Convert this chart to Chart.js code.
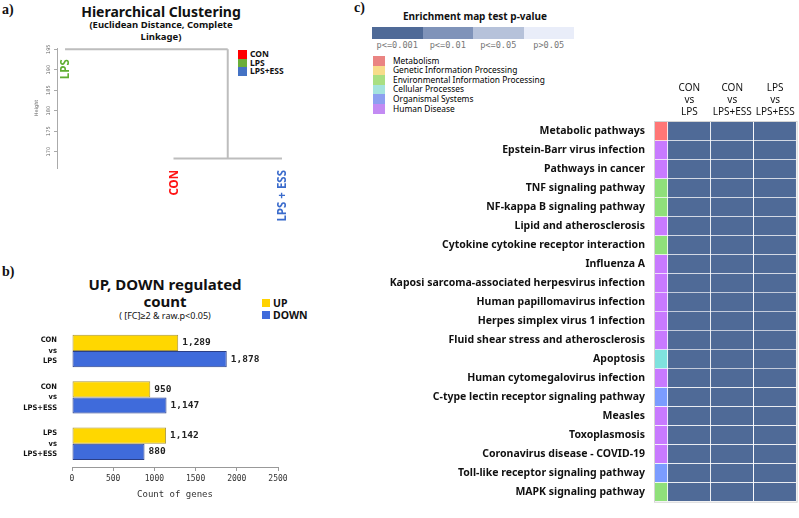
<!DOCTYPE html>
<html>
<head>
<meta charset="utf-8">
<script src="https://cdn.jsdelivr.net/npm/chart.js@4.4.0/dist/chart.umd.min.js"></script>
<style>
body{margin:0;width:799px;height:518px;background:#fff;position:relative;overflow:hidden;font-family:"Noto Sans",sans-serif;color:#111;}
.t{position:absolute;white-space:nowrap;}
.c{text-align:center;}
.pl{font-family:"Liberation Serif",serif;font-weight:bold;font-size:14px;line-height:14px;}
canvas{position:absolute;}
</style>
</head>
<body>
<div class="t pl" style="left:2px;top:3px">a)</div>
<div class="t pl" style="left:2px;top:265px">b)</div>
<div class="t pl" style="left:354px;top:1px">c)</div>

<div class="t c" style="left:41px;width:240px;top:4px;font-size:14px;line-height:16px;font-weight:bold">Hierarchical Clustering</div>
<div class="t c" style="left:41px;width:240px;top:19px;font-size:9.5px;line-height:12px;font-weight:bold">(Euclidean Distance, Complete<br>Linkage)</div>
<div id="legA"></div>

<div class="t c" style="left:45px;width:240px;top:276px;font-size:15px;line-height:17px;font-weight:bold">UP, DOWN regulated<br>count</div>
<div class="t c" style="left:45px;width:240px;top:310px;font-size:9px;line-height:12px">( [FC]≥2 &amp; raw.p&lt;0.05)</div>
<div id="legB"></div>

<div class="t c" style="left:380px;width:190px;top:9px;font-size:10px;line-height:14px;font-weight:bold">Enrichment map test p-value</div>
<div id="legC"></div>

<canvas id="dendro" width="270" height="235" style="left:30px;top:0px"></canvas>
<canvas id="bars" width="330" height="211" style="left:0px;top:297px"></canvas>
<canvas id="heat" width="409" height="440" style="left:390px;top:78px"></canvas>

<script>
// a) hierarchical clustering
var leafNames = ['LPS', 'CON', 'LPS + ESS'];
var leafColors = ['#5fae32', '#ff1414', '#3a6bcc'];
var leafPos = [1, 2, 3];
var mergeHeights = [168.3, 195];
var heightTicks = [170, 175, 180, 185, 190, 195];
var groupNames = ['CON', 'LPS', 'LPS+ESS'];
var groupColors = ['#ff0000', '#6aae3a', '#4472c4'];

// b) up / down regulated counts
var comparisons = [['CON', 'vs', 'LPS'], ['CON', 'vs', 'LPS+ESS'], ['LPS', 'vs', 'LPS+ESS']];
var upCounts = [1289, 950, 1142];
var downCounts = [1878, 1147, 880];
var countTicks = [0, 500, 1000, 1500, 2000, 2500];

// c) KEGG enrichment heatmap
var pathways = ['Metabolic pathways', 'Epstein-Barr virus infection', 'Pathways in cancer',
  'TNF signaling pathway', 'NF-kappa B signaling pathway', 'Lipid and atherosclerosis',
  'Cytokine cytokine receptor interaction', 'Influenza A',
  'Kaposi sarcoma-associated herpesvirus infection', 'Human papillomavirus infection',
  'Herpes simplex virus 1 infection', 'Fluid shear stress and atherosclerosis', 'Apoptosis',
  'Human cytomegalovirus infection', 'C-type lectin receptor signaling pathway', 'Measles',
  'Toxoplasmosis', 'Coronavirus disease - COVID-19', 'Toll-like receptor signaling pathway',
  'MAPK signaling pathway'];
var pathwayClass = [0, 5, 5, 2, 2, 5, 2, 5, 5, 5, 5, 5, 3, 5, 4, 5, 5, 5, 4, 2];
var classNames = ['Metabolism', 'Genetic Information Processing', 'Environmental Information Processing',
  'Cellular Processes', 'Organismal Systems', 'Human Disease'];
var classColors = ['#ff7676', '#ffd86e', '#8fe07a', '#7fe2de', '#7b9cff', '#c87aff'];
var legendColors = ['#ea8482', '#f7dc8a', '#a9df82', '#a4e3de', '#8d9ff0', '#c38bf3'];
var pLabels = ['p<=0.001', 'p<=0.01', 'p<=0.05', 'p>0.05'];
var pColors = ['#4f6a97', '#7f93b9', '#b6c2da', '#e9edf9'];
// p-value class per pathway (0 = p<=0.001)
var pConLps =    [0, 0, 0, 0, 0, 0, 0, 0, 0, 0, 0, 0, 0, 0, 0, 0, 0, 0, 0, 0];
var pConLpsEss = [0, 0, 0, 0, 0, 0, 0, 0, 0, 0, 0, 0, 0, 0, 0, 0, 0, 0, 0, 0];
var pLpsLpsEss = [0, 0, 0, 0, 0, 0, 0, 0, 0, 0, 0, 0, 0, 0, 0, 0, 0, 0, 0, 0];

// html legends
function addBox(parent, x, y, w, h, color) {
  var d = document.createElement('div');
  d.className = 't';
  d.style.cssText = 'left:' + x + 'px;top:' + y + 'px;width:' + w + 'px;height:' + h + 'px;background:' + color;
  parent.appendChild(d);
}
function addText(parent, x, y, txt, css) {
  var d = document.createElement('div');
  d.className = 't';
  d.style.cssText = 'left:' + x + 'px;top:' + y + 'px;' + css;
  d.textContent = txt;
  parent.appendChild(d);
  return d;
}
var legA = document.getElementById('legA');
groupNames.forEach(function (g, i) {
  addBox(legA, 238, 50 + i * 8.5, 9, 8.5, groupColors[i]);
  addText(legA, 250, 49 + i * 8.5, g, 'font-size:8.5px;line-height:10px;font-weight:bold');
});
var legB = document.getElementById('legB');
['UP', 'DOWN'].forEach(function (g, i) {
  addBox(legB, 262, 299 + i * 12, 8, 8, i ? '#3f6bdb' : '#ffd200');
  addText(legB, 273, 297 + i * 11.5, g, 'font-size:10.5px;line-height:13px;font-weight:bold');
});
var legC = document.getElementById('legC');
pLabels.forEach(function (p, i) {
  addBox(legC, 372 + i * 50.5, 27, 50.5, 12, pColors[i]);
  addText(legC, 372 + i * 50.5, 39, p, 'width:50.5px;text-align:center;font-family:"DejaVu Sans Mono",monospace;font-size:8.6px;line-height:12px;color:#777');
});
classNames.forEach(function (c, i) {
  addBox(legC, 373, 56 + i * 9.6, 12, 9.6, legendColors[i]);
  addText(legC, 393, 55.5 + i * 9.6, c, 'font-size:8.4px;line-height:10px;color:#000');
});

// a) dendrogram
var midRight = (leafPos[1] + leafPos[2]) / 2;
var leafLabels = {
  id: 'leafLabels',
  afterDraw: function (chart) {
    var ctx = chart.ctx, xs = chart.scales.x, ys = chart.scales.y;
    ctx.save();
    ctx.font = 'bold 11.5px "Noto Sans"';
    ctx.textAlign = 'right';
    ctx.textBaseline = 'middle';
    leafNames.forEach(function (n, i) {
      var x = xs.getPixelForValue(leafPos[i]);
      var y = i === 0 ? ys.getPixelForValue(mergeHeights[1]) + 10 : chart.chartArea.bottom + 2;
      ctx.save();
      ctx.translate(x + 1, y);
      ctx.rotate(-Math.PI / 2);
      ctx.fillStyle = leafColors[i];
      ctx.fillText(n, 0, 0);
      ctx.restore();
    });
    ctx.restore();
  }
};
var lineStyle = {showLine: true, pointRadius: 0, borderColor: '#bdbdbd', borderWidth: 2};
new Chart(document.getElementById('dendro'), {
  type: 'scatter',
  data: {
    datasets: [
      Object.assign({data: [{x: leafPos[1], y: mergeHeights[0]}, {x: leafPos[2], y: mergeHeights[0]}]}, lineStyle),
      Object.assign({data: [{x: midRight, y: mergeHeights[0]}, {x: midRight, y: mergeHeights[1]}]}, lineStyle),
      Object.assign({data: [{x: leafPos[0], y: mergeHeights[1]}, {x: midRight, y: mergeHeights[1]}]}, lineStyle)
    ]
  },
  options: {
    responsive: false,
    animation: false,
    layout: {padding: {top: 48, bottom: 67, right: 10, left: 0}},
    scales: {
      x: {type: 'linear', display: false, min: 0.926, max: 3.074},
      y: {
        min: 166, max: 195.3,
        afterBuildTicks: function (s) { s.ticks = heightTicks.map(function (v) { return {value: v}; }); },
        ticks: {minRotation: 90, maxRotation: 90, crossAlign: 'center', padding: 1,
          font: {family: 'DejaVu Sans', size: 5}, color: '#666'},
        grid: {drawOnChartArea: false, tickLength: 3, color: '#aaa'},
        border: {color: '#aaa'},
        title: {display: true, text: 'Height', font: {family: 'DejaVu Sans', size: 5}, color: '#666', padding: {top: 4, bottom: 0}},
        afterFit: function (s) { s.width = 27; }
      }
    },
    plugins: {legend: {display: false}, tooltip: {enabled: false}}
  },
  plugins: [leafLabels]
});

// b) bar chart
var valueLabels = {
  id: 'valueLabels',
  afterDatasetsDraw: function (chart) {
    var ctx = chart.ctx;
    ctx.save();
    ctx.font = 'bold 9.5px "DejaVu Sans Mono"';
    ctx.fillStyle = '#222';
    ctx.textAlign = 'left';
    ctx.textBaseline = 'middle';
    chart.data.datasets.forEach(function (ds, di) {
      chart.getDatasetMeta(di).data.forEach(function (bar, i) {
        ctx.fillText(ds.data[i].toLocaleString('en-US'), bar.x + 4, bar.y);
      });
    });
    ctx.restore();
  }
};
new Chart(document.getElementById('bars'), {
  type: 'bar',
  data: {
    labels: comparisons,
    datasets: [
      {label: 'UP', data: upCounts, backgroundColor: '#ffd700', borderColor: '#a8953c', borderWidth: 1},
      {label: 'DOWN', data: downCounts, backgroundColor: '#3f6bdb', borderColor: '#2b3f86', borderWidth: 1}
    ]
  },
  options: {
    indexAxis: 'y',
    responsive: false,
    animation: false,
    layout: {padding: {top: 0, right: 52, bottom: 0, left: 0}},
    datasets: {bar: {barPercentage: 1, categoryPercentage: 0.7, borderSkipped: false}},
    scales: {
      x: {
        min: 0, max: 2500,
        afterBuildTicks: function (s) { s.ticks = countTicks.map(function (v) { return {value: v}; }); },
        ticks: {font: {family: 'DejaVu Sans Mono', size: 8}, color: '#333', padding: 3,
          callback: function (v) { return String(v); }},
        grid: {drawOnChartArea: false, tickLength: 4, color: '#999'},
        border: {color: '#999'},
        title: {display: true, text: 'Count of genes', font: {family: 'DejaVu Sans Mono', size: 9}, color: '#333', padding: {top: 0, bottom: 8}},
        afterFit: function (s) { s.height = 41; }
      },
      y: {
        grid: {display: false, drawTicks: false},
        border: {display: false},
        ticks: {font: {family: '"DejaVu Sans Condensed", "Liberation Sans", sans-serif', size: 7.5, weight: 'bold', lineHeight: 1.4}, color: '#111', padding: 15},
        afterFit: function (s) { s.width = 72; }
      }
    },
    plugins: {legend: {display: false}, tooltip: {enabled: false}}
  },
  plugins: [valueLabels]
});

// c) heatmap
var stripWidth = 0.3;
var frame = {
  id: 'frame',
  afterDraw: function (chart) {
    var a = chart.chartArea, ctx = chart.ctx;
    ctx.save();
    ctx.strokeStyle = '#d4d4d4';
    ctx.lineWidth = 1;
    ctx.strokeRect(a.left - 0.5, a.top - 0.5, a.right - a.left + 1, a.bottom - a.top + 1);
    ctx.restore();
  }
};
function cellSet(pc) {
  return {data: pc.map(function () { return 1; }), backgroundColor: pc.map(function (p) { return pColors[p]; })};
}
new Chart(document.getElementById('heat'), {
  type: 'bar',
  data: {
    labels: pathways,
    datasets: [
      {data: pathways.map(function () { return stripWidth; }), backgroundColor: pathwayClass.map(function (c) { return classColors[c]; })},
      cellSet(pConLps), cellSet(pConLpsEss), cellSet(pLpsLpsEss)
    ]
  },
  options: {
    indexAxis: 'y',
    responsive: false,
    animation: false,
    layout: {padding: {top: 0, right: 2, bottom: 2, left: 0}},
    datasets: {bar: {barPercentage: 1, categoryPercentage: 1, borderColor: '#fff', borderWidth: {right: 1, bottom: 1}}},
    scales: {
      x: {
        stacked: true, position: 'top', min: 0, max: stripWidth + 3,
        afterBuildTicks: function (s) { s.ticks = [0.5, 1.5, 2.5].map(function (v) { return {value: stripWidth + v}; }); },
        ticks: {autoSkip: false, maxRotation: 0, padding: 4, color: '#111', font: {family: 'Noto Sans', size: 10, lineHeight: 1.2},
          callback: function (v, i) { return comparisons[i]; }},
        grid: {display: false, drawTicks: false},
        border: {display: false},
        afterFit: function (s) { s.height = 44; }
      },
      y: {
        stacked: true,
        grid: {display: false, drawTicks: false},
        border: {display: false},
        ticks: {autoSkip: false, padding: 10, color: '#111', font: {family: 'Noto Sans', size: 10.5, weight: 'bold'}},
        afterFit: function (s) { s.width = 265; }
      }
    },
    plugins: {legend: {display: false}, tooltip: {enabled: false}}
  },
  plugins: [frame]
});
</script>
</body>
</html>
